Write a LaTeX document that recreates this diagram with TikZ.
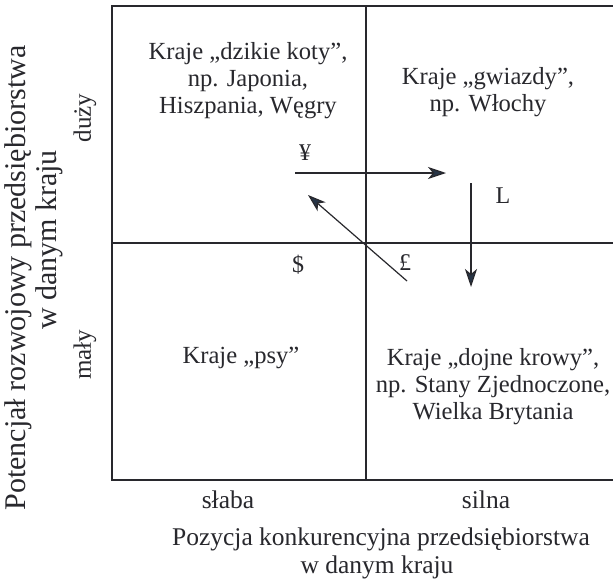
\documentclass[tikz,border=0pt]{standalone}
\usepackage{fontspec}
\setmainfont{Liberation Serif}
\usetikzlibrary{arrows.meta}
\definecolor{inkc}{RGB}{40,40,45}
\definecolor{headc}{RGB}{38,52,70}
\begin{document}
\begin{tikzpicture}[x=1pt,y=-1pt,
  frameline/.style={draw=inkc,line width=1.3pt},
  flow/.style={draw=inkc,line width=1.2pt,-{Stealth[length=18pt,width=12pt,inset=5pt,fill=headc]}},
  quad/.style={font=\fontsize{24.6}{27}\selectfont,align=center,inner sep=0pt,text=inkc},
  axis/.style={font=\fontsize{25.5}{28}\selectfont,inner sep=0pt,text=inkc},
  sideaxis/.style={font=\fontsize{30}{32}\selectfont,inner sep=0pt,text=inkc,rotate=90},
  sidelevel/.style={font=\fontsize{25}{27}\selectfont,inner sep=0pt,text=inkc,rotate=90},
  sym/.style={font=\fontsize{24}{26}\selectfont,inner sep=0pt,text=inkc}]
\useasboundingbox (0,0) rectangle (613,581);
\fill[white] (0,0) rectangle (613,581);
% frame
\coordinate (tl) at (112,6);
\coordinate (tm) at (366,6);
\coordinate (tr) at (613,6);
\coordinate (ml) at (112,243);
\coordinate (mr) at (613,243);
\coordinate (bl) at (112,480);
\coordinate (bm) at (366,480);
\coordinate (br) at (613,480);
\draw[frameline] (tr) -- (tl) -- (bl) -- (br);
\draw[frameline] (tm) -- (bm);
\draw[frameline] (ml) -- (mr);
% quadrant texts
\node[quad] (wild) at (248,81) {Kraje „dzikie koty”,\\np. Japonia,\hspace*{48pt}\\Hiszpania, Węgry};
\node[quad] (stars) at (488,92) {Kraje „gwiazdy”,\\np. Włochy};
\node[quad] (dogs) at (241,358) {Kraje „psy”};
\node[quad] (cows) at (493,387) {Kraje „dojne krowy”,\\np. Stany Zjednoczone,\\Wielka Brytania};
% arrows
\coordinate (yA) at (295,173);
\coordinate (yB) at (446,173);
\coordinate (lA) at (471,183);
\coordinate (lB) at (471,287);
\coordinate (pA) at (407,281);
\coordinate (pB) at (308,195);
\draw[flow] (yA) -- (yB);
\draw[flow] (lA) -- (lB);
\draw[flow] (pA) -- (pB);
\node[sym] (yen) at (305,153) {¥};
\node[sym] (lsym) at (503,196) {L};
\node[sym] (dollar) at (298,265) {\$};
\node[sym] (pound) at (405,263) {£};
% axis labels
\node[axis,anchor=base] (weak) at (228,508) {słaba};
\node[axis,anchor=base] (strong) at (486,508) {silna};
\node[axis,anchor=base] (xt1) at (381,545) {Pozycja konkurencyjna przedsiębiorstwa};
\node[axis,anchor=base] (xt2) at (377,573) {w danym kraju};
\node[sideaxis] (yt1) at (18,278) {Potencjał rozwojowy przedsiębiorstwa};
\node[sideaxis] (yt2) at (49,240) {w danym kraju};
\node[sidelevel] (big) at (85,118) {duży};
\node[sidelevel] (small) at (85,355) {mały};
\end{tikzpicture}
\end{document}
